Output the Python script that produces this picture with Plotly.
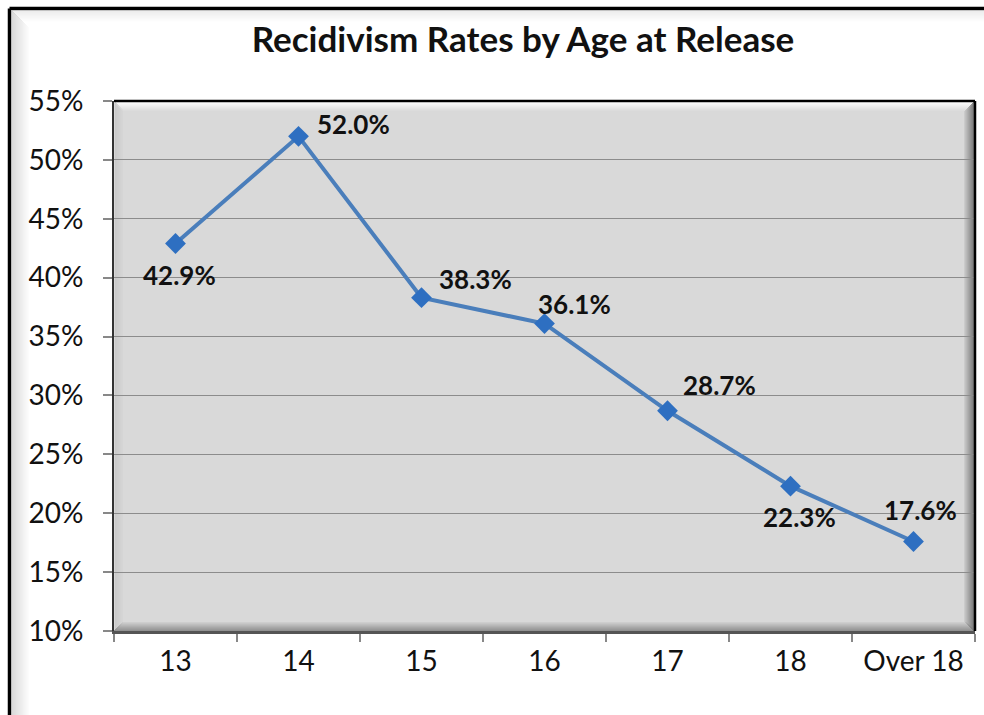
import plotly.graph_objects as go

categories = ["13", "14", "15", "16", "17", "18", "Over 18"]
rates = [42.9, 52.0, 38.3, 36.1, 28.7, 22.3, 17.6]
labels = ["42.9%", "52.0%", "38.3%", "36.1%", "28.7%", "22.3%", "17.6%"]
y_ticks = [10, 15, 20, 25, 30, 35, 40, 45, 50, 55]
y_ticklabels = ["10%", "15%", "20%", "25%", "30%", "35%", "40%", "45%", "50%", "55%"]
title_text = "Recidivism Rates by Age at Release"

# label offsets (pixels) relative to each point
label_dx = [4, 55, 54, 30, 52, 9, 7]
label_dy = [-31, 12, 19, 20, 26, -31, 31]

W, H = 984, 715
L, R, T, B = 114, 975, 101, 631  # plot area in pixels


def px(x):
    return (x - L) / (R - L)


def py(y):
    return (B - y) / (B - T)


FONT = "Lato"

fig = go.Figure()
fig.add_trace(go.Scatter(
    x=categories, y=rates, mode="lines+markers",
    line=dict(color="#4a7ebb", width=4),
    marker=dict(symbol="diamond", size=16, color="#2e6fc1",
                line=dict(width=0)),
    hoverinfo="skip", showlegend=False, cliponaxis=False,
))

for i, (v, t, dx, dy) in enumerate(zip(rates, labels, label_dx, label_dy)):
    fig.add_annotation(x=i, y=v, text="<b>%s</b>" % t, showarrow=False,
                       xshift=dx, yshift=dy,
                       font=dict(family=FONT, size=26, color="#111111"))

shapes = []
# plot area bevel (drawn under gridlines)
bevel = [
    *[dict(type="rect", xref="paper", yref="paper", x0=px(L + i), x1=px(R - i),
           y0=py(T + 1 + i + 1), y1=py(T + 1 + i), fillcolor="white",
           opacity=0.9 - i * 0.1, line=dict(width=0), layer="below") for i in range(9)],
    *[dict(type="rect", xref="paper", yref="paper", x0=px(L + 1 + i), x1=px(L + 2 + i),
           y0=py(B - i), y1=py(T + 1 + i), fillcolor="#c6c6c6",
           opacity=0.8 - i * 0.09, line=dict(width=0), layer="below") for i in range(8)],
    *[dict(type="rect", xref="paper", yref="paper", x0=px(R - 2 - i), x1=px(R - 1 - i),
           y0=py(B - i), y1=py(T + 1 + i), fillcolor="#6a6a6a",
           opacity=0.85 - i * 0.08, line=dict(width=0), layer="below") for i in range(10)],
    *[dict(type="rect", xref="paper", yref="paper", x0=px(L + i), x1=px(R - i),
           y0=py(B - i), y1=py(B - 1 - i), fillcolor="#7a7a7a",
           opacity=0.75 - i * 0.08, line=dict(width=0), layer="below") for i in range(9)],
]
shapes += bevel
shapes.append(dict(type="line", xref="paper", yref="paper", x0=px(L), x1=px(R),
                   y0=py(T), y1=py(T), line=dict(color="#000000", width=2.5), layer="above"))
shapes.append(dict(type="line", xref="paper", yref="paper", x0=px(R), x1=px(R),
                   y0=py(T), y1=py(B), line=dict(color="#000000", width=2.5), layer="above"))
# outer chart frame (extends past the image)
shapes.append(dict(type="line", xref="paper", yref="paper", x0=px(9.5), x1=px(1100),
                   y0=py(8.5), y1=py(8.5), line=dict(color="#000000", width=3.5), layer="below"))
shapes.append(dict(type="line", xref="paper", yref="paper", x0=px(9.5), x1=px(9.5),
                   y0=py(8.5), y1=py(800), line=dict(color="#000000", width=3.5), layer="below"))
for i in range(18):
    shapes.append(dict(type="rect", xref="paper", yref="paper", x0=px(11 + i), x1=px(12 + i),
                       y0=py(800), y1=py(10 + i), fillcolor="#b8b8b8",
                       opacity=max(0.0, 0.55 - i * 0.03), line=dict(width=0), layer="below"))
for i in range(12):
    shapes.append(dict(type="rect", xref="paper", yref="paper", x0=px(11 + i), x1=px(1100),
                       y0=py(11 + i), y1=py(10 + i), fillcolor="#c8c8c8",
                       opacity=max(0.0, 0.35 - i * 0.03), line=dict(width=0), layer="below"))

fig.update_layout(
    width=W, height=H,
    margin=dict(l=L, r=W - R, t=T, b=H - B, pad=0),
    paper_bgcolor="white", plot_bgcolor="#d9d9d9",
    font=dict(family=FONT, color="#111111"),
    title=dict(text="<b>%s</b>" % title_text, x=px(523), xref="paper", xanchor="center",
               y=1 - 40 / H, yanchor="middle",
               font=dict(family=FONT, size=35, color="#111111")),
    shapes=shapes,
    xaxis=dict(
        type="category", range=[-0.5, 6.5], tickson="boundaries",
        ticks="outside", ticklen=8, tickcolor="#888888", tickwidth=1.5,
        showline=True, linecolor="#555555", linewidth=2.5,
        showgrid=False, tickfont=dict(family=FONT, size=28, color="#111111"),
        ticklabelstandoff=4, zeroline=False,
    ),
    yaxis=dict(
        range=[10, 55], tickvals=y_ticks, ticktext=y_ticklabels,
        ticks="outside", ticklen=9, tickcolor="#888888", tickwidth=1.5,
        showline=True, linecolor="#333333", linewidth=2,
        showgrid=True, gridcolor="#8c8c8c", gridwidth=1.2,
        tickfont=dict(family=FONT, size=28, color="#111111"),
        ticklabelstandoff=14, zeroline=False,
    ),
)

fig.write_html("out.html")
